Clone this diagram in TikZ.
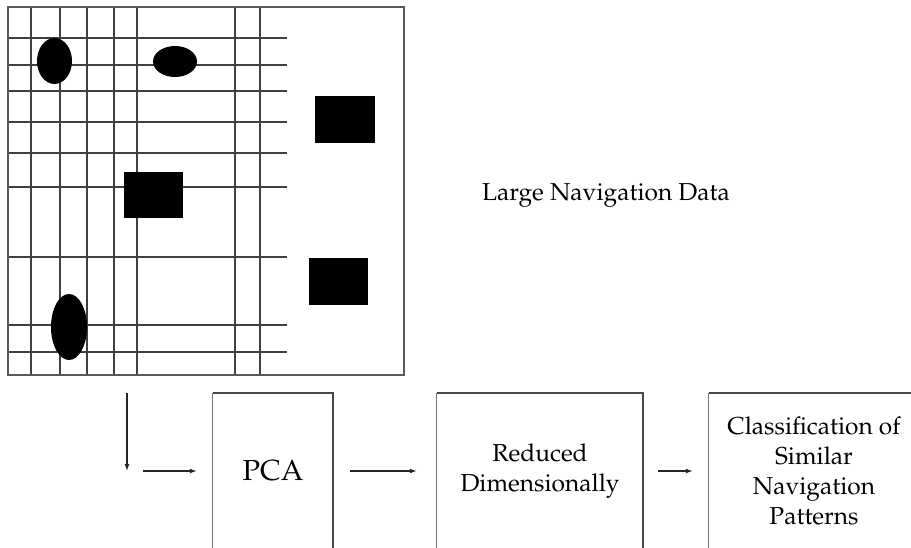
\documentclass[tikz,border=0pt]{standalone}
\usepackage[T1]{fontenc}
\renewcommand{\rmdefault}{ppl}
\usetikzlibrary{arrows.meta}
\begin{document}
\begin{tikzpicture}[x=1pt,y=-1pt,
  gridline/.style={line width=1.7pt, draw=black!75},
  frameline/.style={line width=1.6pt, draw=black!65},
  boxnode/.style={minimum width=#1, minimum height=156pt, inner sep=0pt, align=center,
                  font=\fontsize{24.5}{30}\selectfont, text=black},
  boxside/.style={line width=1.3pt, draw=black!55},
  boxtop/.style={line width=2.4pt, draw=black!72},
  arr/.style={line width=1.3pt, draw=black!85, -{Latex[length=7pt,width=5pt]}},
]
\useasboundingbox (0,0) rectangle (911,547);
\clip (0,0) rectangle (911,547);
\fill[white] (0,0) rectangle (911,547);

% grid
\foreach \x in {31,60,87,114,137,235,260}
  \draw[gridline] (\x,7) -- (\x,375);
\foreach \y in {38,65,91,122,153,187,257,325,352}
  \draw[gridline] (8,\y) -- (287,\y);
\draw[frameline] (8,7) rectangle (404,375);

% blobs
\fill (54.5,61) ellipse [x radius=17.5, y radius=23];
\fill (175,61.5) ellipse [x radius=22, y radius=15.5];
\fill (69,327) ellipse [x radius=18, y radius=33];
\fill (124,172) rectangle (183,218);
\fill (315,96) rectangle (375,143);
\fill (309,258) rectangle (368,305);

% label
\node[font=\fontsize{24.5}{30}\selectfont, text=black, anchor=base, inner sep=0pt] (lnd) at (606,200) {Large Navigation Data};

% boxes
\node[boxnode=120pt, font=\fontsize{29}{34}\selectfont] (pca) at (273,471) {PCA};
\node[boxnode=206pt] (red) at (540,471) {Reduced\\Dimensionally};
\node[boxnode=210pt] (cls) at (814,471) {Classification of\\Similar\\Navigation\\Patterns};

\foreach \b in {pca,red,cls}{
  \draw[boxside] (\b.south west) -- (\b.north west);
  \draw[boxtop] (\b.north west) -- (\b.north east) -- (\b.south east);
}

% arrows
\coordinate (dtop) at (127,393);
\coordinate (dbot) at (127,471);
\draw[arr] (dtop) -- (dbot);
\coordinate (a1) at (143,471);
\draw[arr] (a1) -- ([xshift=-16pt]pca.west);
\draw[arr] ([xshift=17pt]pca.east) -- ([xshift=-20pt]red.west);
\draw[arr] ([xshift=15pt]red.east) -- ([xshift=-16pt]cls.west);
\end{tikzpicture}
\end{document}
